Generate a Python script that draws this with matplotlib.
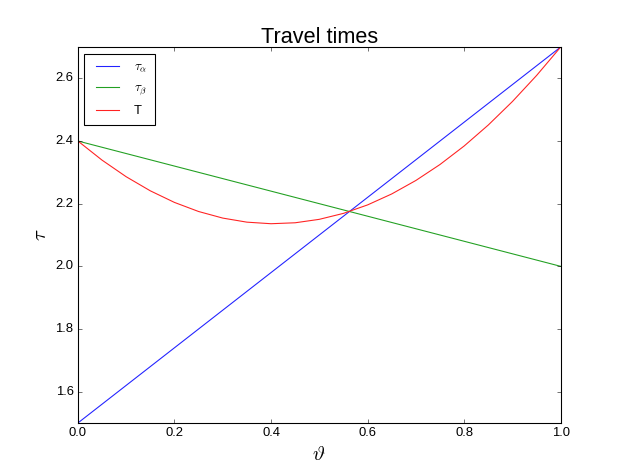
import numpy as np
import matplotlib
matplotlib.use("Agg")
import matplotlib.pyplot as plt

# values
theta = [0.0, 0.05, 0.1, 0.15, 0.2, 0.25, 0.3, 0.35, 0.4, 0.45, 0.5,
         0.55, 0.6, 0.65, 0.7, 0.75, 0.8, 0.85, 0.9, 0.95, 1.0]
tau_alpha = [1.5, 1.56, 1.62, 1.68, 1.74, 1.8, 1.86, 1.92, 1.98, 2.04, 2.1,
             2.16, 2.22, 2.28, 2.34, 2.4, 2.46, 2.52, 2.58, 2.64, 2.7]
tau_beta = [2.4, 2.38, 2.36, 2.34, 2.32, 2.3, 2.28, 2.26, 2.24, 2.22, 2.2,
            2.18, 2.16, 2.14, 2.12, 2.1, 2.08, 2.06, 2.04, 2.02, 2.0]
T = [2.4, 2.339, 2.286, 2.241, 2.204, 2.175, 2.154, 2.141, 2.136, 2.139, 2.15,
     2.169, 2.196, 2.231, 2.274, 2.325, 2.384, 2.451, 2.526, 2.609, 2.7]

plt.style.use('classic')
plt.rcParams['font.family'] = ['Liberation Sans', 'DejaVu Sans']
plt.rcParams['mathtext.fontset'] = 'cm'

fig = plt.figure(figsize=(623 / 78, 470 / 78), dpi=78)
ax = fig.add_subplot(111)
fig.patch.set_facecolor('white')

ax.plot(theta, tau_alpha, color='#2222ff', label=r'$\tau_\alpha$')
ax.plot(theta, tau_beta, color='#22a022', label=r'$\tau_\beta$')
ax.plot(theta, T, color='#ff2222', label='T')

ax.set_ylim(1.5, 2.7)
ax.set_xlim(0, 1)
ax.set_title('Travel times', fontsize=20, pad=4)
ax.set_xlabel(r'$\vartheta$', fontsize=19)
ax.set_ylabel(r'$\tau$', fontsize=19)
ax.tick_params(labelsize=12)
ax.legend(loc='upper left', fontsize=12, handlelength=2.4, borderpad=0.6,
          labelspacing=0.6)

fig.savefig('out.png', dpi=78, facecolor='white')
